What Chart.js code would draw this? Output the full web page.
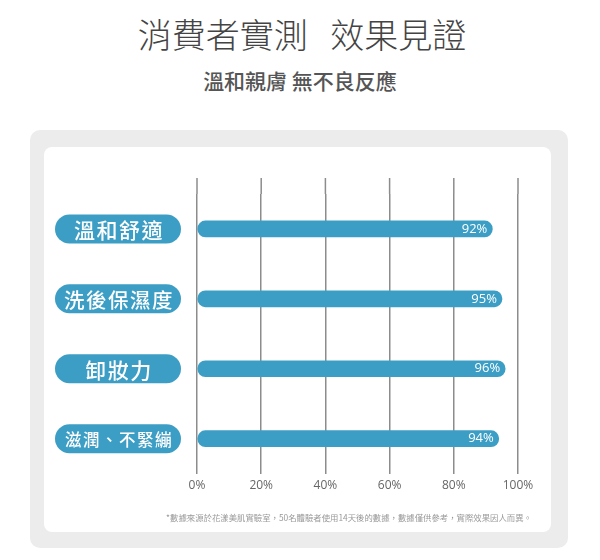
<!DOCTYPE html>
<html>
<head>
<meta charset="utf-8">
<script src="https://cdn.jsdelivr.net/npm/chart.js@4.4.1/dist/chart.umd.min.js"></script>
<style>
  html, body { margin: 0; padding: 0; background: #fff; }
  body { width: 600px; height: 560px; position: relative; overflow: hidden;
         font-family: "Noto Sans CJK TC", "Noto Sans", sans-serif; }
  .title { position: absolute; left: 2px; width: 600px; top: 10px; text-align: center;
           font-size: 34px; font-weight: 300; color: #444; white-space: pre; line-height: 48px; }
  .subtitle { position: absolute; left: 0; width: 600px; top: 65px; text-align: center;
              font-size: 21px; font-weight: 500; color: #555; line-height: 30px; }
  .panel { position: absolute; left: 30px; top: 130px; width: 538px; height: 418px;
           background: #ececec; border-radius: 10px; }
  .card { position: absolute; left: 44px; top: 147px; width: 507px; height: 385px;
          background: #fff; border-radius: 8px; }
  .note { position: absolute; left: 40px; width: 492px; top: 510px; text-align: right;
          font-size: 8.4px; color: #999; line-height: 14px; white-space: nowrap; }
</style>
</head>
<body>
<div class="title">消費者實測   效果見證</div>
<div class="subtitle">溫和親膚 無不良反應</div>
<div class="panel"></div>
<div class="card"><canvas id="chart"></canvas></div>
<div class="note">*數據來源於花漾美肌實驗室，50名體驗者使用14天後的數據，數據僅供參考，實際效果因人而異。</div>

<script>
// ===== DATA =====
const categories = ["溫和舒適", "洗後保濕度", "卸妝力", "滋潤、不緊繃"];
const satisfaction = [92, 95, 96, 94];
const tickValues = [0, 20, 40, 60, 80, 100];

const blue = "#3c9ec5";
const gridColor = "#8c8c8c";

// pills on the left + % labels inside the bars + grid lines reaching up
const decorPlugin = {
    id: "decor",
    beforeDatasetsDraw(chart) {
        const ctx = chart.ctx;
        const x = chart.scales.x;
        const top = chart.chartArea.top;
        ctx.save();
        ctx.strokeStyle = gridColor;
        ctx.lineWidth = 1.5;
        tickValues.forEach(v => {
            const px = x.getPixelForValue(v);
            ctx.beginPath();
            ctx.moveTo(px, 31);
            ctx.lineTo(px, top);
            ctx.stroke();
        });
        ctx.restore();
    },
    afterDatasetsDraw(chart) {
        const ctx = chart.ctx;
        const y = chart.scales.y;
        const meta = chart.getDatasetMeta(0);
        ctx.save();

        // value labels
        ctx.fillStyle = "#fff";
        ctx.font = "13px 'Open Sans'";
        ctx.textAlign = "right";
        ctx.textBaseline = "middle";
        meta.data.forEach((bar, i) => {
            ctx.fillText(satisfaction[i] + "%", bar.x - 5, bar.y);
        });

        // category pills
        const pillX = 11, pillW = 126, pillH = 29;
        categories.forEach((label, i) => {
            const cy = y.getPixelForValue(i);
            ctx.beginPath();
            ctx.roundRect(pillX, cy - pillH / 2, pillW, pillH, pillH / 2);
            ctx.fillStyle = blue;
            ctx.fill();

            let size = 21;
            ctx.letterSpacing = "1.5px";
            ctx.font = "500 " + size + "px 'Noto Sans CJK TC'";
            while (ctx.measureText(label).width > 110 && size > 10) {
                size -= 0.5;
                ctx.font = "500 " + size + "px 'Noto Sans CJK TC'";
            }
            ctx.fillStyle = "#fff";
            ctx.textAlign = "center";
            ctx.textBaseline = "middle";
            ctx.fillText(label, pillX + pillW / 2 + 1, cy + 1);
        });
        ctx.restore();
    }
};

new Chart(document.getElementById("chart"), {
    type: "bar",
    data: {
        labels: categories,
        datasets: [{
            data: satisfaction,
            backgroundColor: blue,
            barThickness: 16,
            borderRadius: 8,
            borderSkipped: false
        }]
    },
    options: {
        indexAxis: "y",
        responsive: true,
        maintainAspectRatio: false,
        animation: false,
        layout: { padding: { left: 153, right: 33, top: 47, bottom: 34 } },
        plugins: { legend: { display: false }, tooltip: { enabled: false } },
        scales: {
            x: {
                min: 0,
                max: 100,
                ticks: {
                    stepSize: 20,
                    padding: 5,
                    color: "#666",
                    font: { family: "'Open Sans'", size: 12 },
                    callback: v => v + "%"
                },
                grid: { color: gridColor, lineWidth: 1.5, drawTicks: false },
                border: { display: false }
            },
            y: { display: false }
        }
    },
    plugins: [decorPlugin]
});
</script>
</body>
</html>
